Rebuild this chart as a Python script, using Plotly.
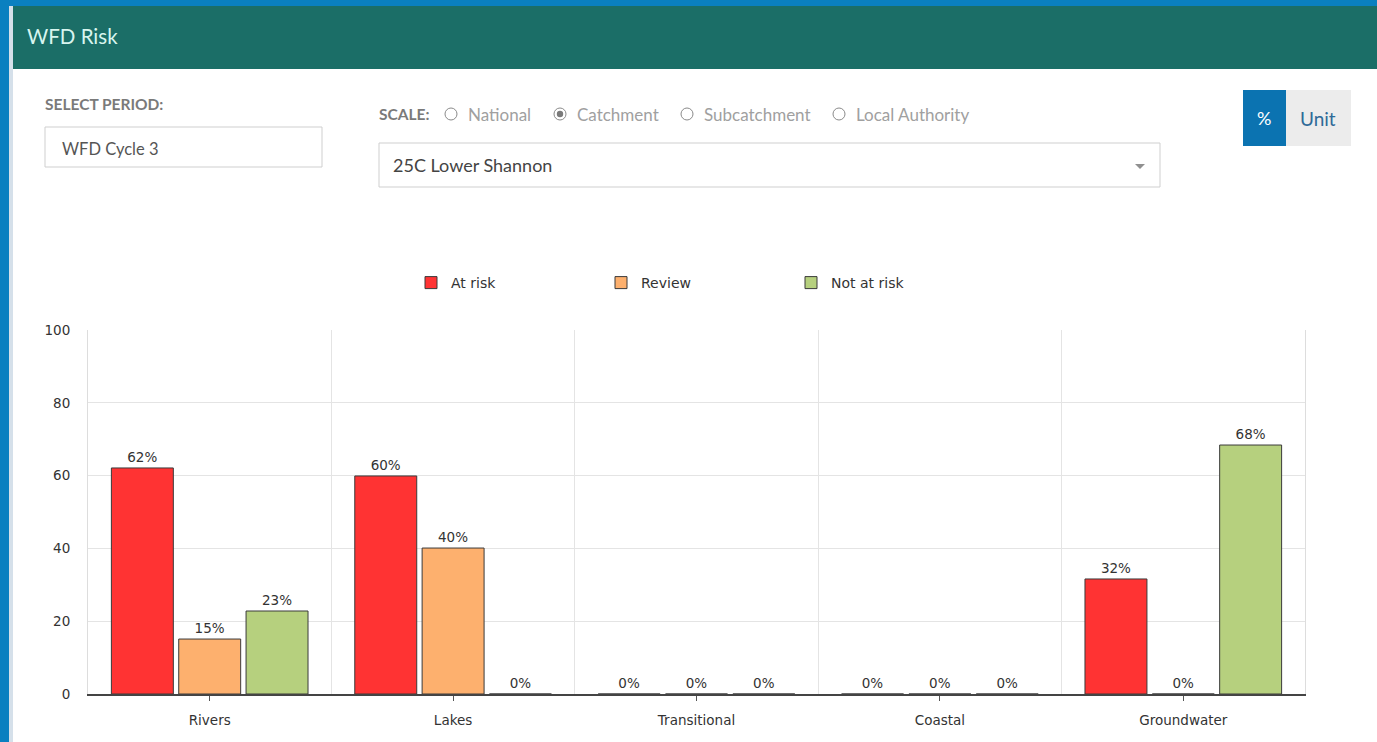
import plotly.graph_objects as go

# ---- data ----
categories = ["Rivers", "Lakes", "Transitional", "Coastal", "Groundwater"]
series_names = ["At risk", "Review", "Not at risk"]
at_risk = [62.1, 59.9, 0, 0, 31.6]
review = [15.1, 40.1, 0, 0, 0]
not_at_risk = [22.8, 0, 0, 0, 68.4]
y_ticks = [0, 20, 40, 60, 80, 100]

colors = ["#ff3333", "#fdb06e", "#b6d07e"]

W_PAGE, H_PAGE = 1377, 742
L, R, T, B = 88, 1305, 330, 694  # plot area pixel bounds
PW, PH = R - L, B - T


def px(x):
    return (x - L) / PW


def py(y):
    return (B - y) / PH


fig = go.Figure()
xs = list(range(len(categories)))
for name, vals, col in zip(series_names, [at_risk, review, not_at_risk], colors):
    fig.add_trace(go.Bar(
        x=xs, y=vals, name=name,
        marker=dict(color=col, line=dict(color="#3a3a3a", width=1)),
        texttemplate="%{y:.0f}%", textposition="outside",
        textfont=dict(family="DejaVu Sans", size=13.5, color="#333"),
        cliponaxis=False,
    ))

shapes = []
annotations = []


def rect(x0, y0, x1, y1, fill, line=None, lw=1):
    shapes.append(dict(type="rect", xref="paper", yref="paper",
                       x0=px(x0), x1=px(x1), y0=py(y1), y1=py(y0),
                       fillcolor=fill, line=dict(color=line or "rgba(0,0,0,0)", width=lw if line else 0),
                       layer="above"))


def circle(cx, cy, r, fill, line=None, lw=1):
    shapes.append(dict(type="circle", xref="paper", yref="paper",
                       x0=px(cx - r), x1=px(cx + r), y0=py(cy + r), y1=py(cy - r),
                       fillcolor=fill, line=dict(color=line or "rgba(0,0,0,0)", width=lw if line else 0)))


def text(x, y, s, size, color, xanchor="left", family="Lato", weight="normal"):
    annotations.append(dict(xref="paper", yref="paper", x=px(x), y=py(y), text=s,
                            showarrow=False, xanchor=xanchor, yanchor="middle",
                            font=dict(family=family, size=size, color=color, weight=weight)))


# page frame
rect(0, 0, 1377, 6, "#0a80c0")
rect(0, 0, 9, 742, "#0a80c0")
rect(9, 6, 13, 742, "#d5e0ea")
rect(13, 6, 1377, 69, "#1b6e67")
text(25, 36, "WFD Risk", 20.5, "#d8f5ef")

# select period
text(43, 104, "SELECT PERIOD:", 15.5, "#7a7a7a", weight="bold")
rect(45, 127, 322, 167, "#ffffff", "#cfcfcf")
text(60, 149, "WFD Cycle 3", 16.5, "#555")

# scale radios
text(377, 114, "SCALE:", 15.5, "#7a7a7a", weight="bold")
radio = [(451, "National", False), (560, "Catchment", True),
         (687, "Subcatchment", False), (839, "Local Authority", False)]
for cx, lab, sel in radio:
    circle(cx, 114, 6, "#ffffff", "#8a8a8a", 1)
    if sel:
        circle(cx, 114, 3.2, "#7a7a7a")
    text(cx + 15, 114, lab, 17, "#a0a0a0")

# dropdown
rect(379, 143, 1160, 187, "#ffffff", "#cfcfcf")
text(391, 165, "25C Lower Shannon", 18, "#444")
shapes.append(dict(type="path", xref="paper", yref="paper",
                   path=f"M{px(1135)},{py(164)} L{px(1145)},{py(164)} L{px(1140)},{py(169)} Z",
                   fillcolor="#909090", line=dict(width=0)))

# % / Unit toggle
rect(1243, 90, 1286, 146, "#0b73b1")
rect(1286, 90, 1351, 146, "#ececec")
text(1264, 118, "%", 18, "#ffffff", xanchor="center")
text(1318, 118, "Unit", 19, "#2f6a98", xanchor="center")

fig.update_layout(
    width=W_PAGE, height=H_PAGE,
    margin=dict(l=L, r=W_PAGE - R, t=T, b=H_PAGE - B, pad=0),
    paper_bgcolor="#ffffff", plot_bgcolor="#ffffff",
    barmode="group", bargap=0.17, bargroupgap=0.08,
    font=dict(family="DejaVu Sans", size=13.5, color="#333"),
    shapes=shapes, annotations=annotations,
    showlegend=True,
    legend=dict(orientation="h", x=px(411), y=py(283), xanchor="left", yanchor="middle",
                entrywidth=145, entrywidthmode="pixels",
                font=dict(family="DejaVu Sans", size=14, color="#333"),
                bgcolor="rgba(0,0,0,0)", traceorder="normal"),
    xaxis=dict(
        range=[-0.5, len(categories) - 0.5],
        tickmode="array", tickvals=xs, ticktext=categories,
        ticks="outside", ticklen=5, tickcolor="#555", tickwidth=1,
        ticklabelstandoff=8,
        showgrid=False, showline=True, linecolor="#444", linewidth=1.5,
        zeroline=False,
        tickfont=dict(family="DejaVu Sans", size=13.5, color="#333"),
        minor=dict(tickmode="array", tickvals=[i - 0.5 for i in range(len(categories) + 1)],
                   showgrid=True, gridcolor="#e4e4e4", gridwidth=1, ticks=""),
    ),
    yaxis=dict(
        range=[0, 100], tickmode="array", tickvals=y_ticks,
        showgrid=True, gridcolor="#e4e4e4", gridwidth=1,
        zeroline=False, showline=True, linecolor="#dddddd", mirror=True,
        ticks="", ticklabelstandoff=14,
        tickfont=dict(family="DejaVu Sans", size=13.5, color="#333"),
    ),
)

fig.write_html("out.html", config={"displayModeBar": False},
               post_script="document.body.style.margin='0';document.body.style.overflow='hidden';")
